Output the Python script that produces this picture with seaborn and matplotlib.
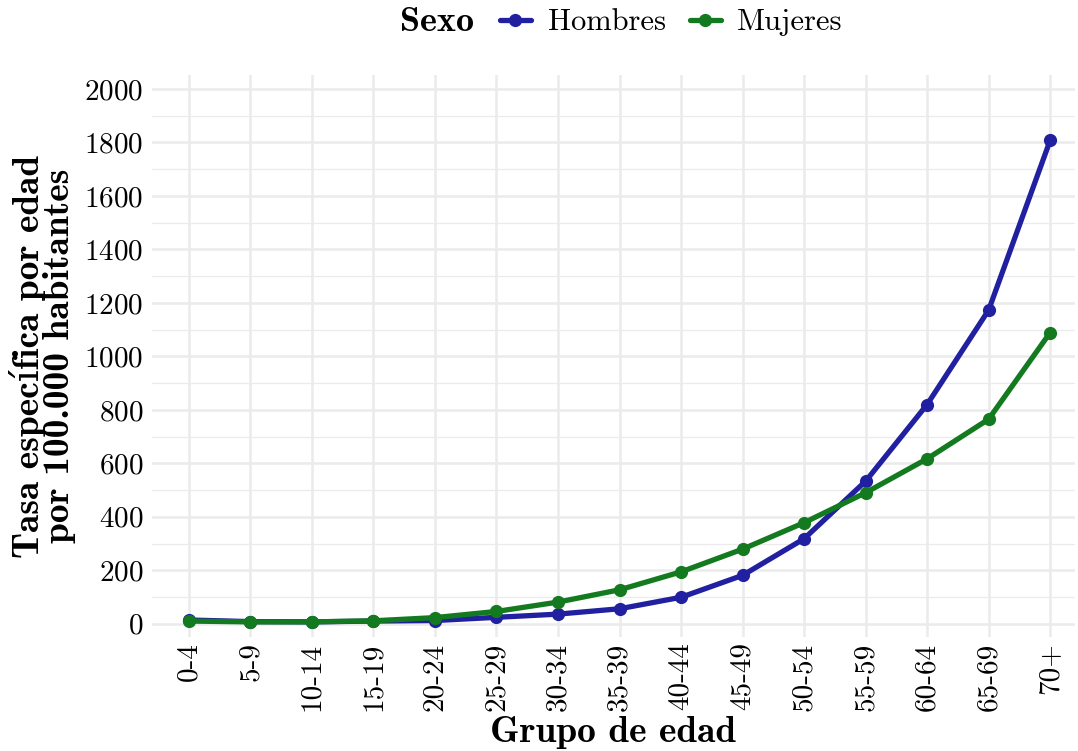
import numpy as np
import pandas as pd
import seaborn as sns
import matplotlib.pyplot as plt
from matplotlib.ticker import MultipleLocator

grupos = ["0-4", "5-9", "10-14", "15-19", "20-24", "25-29", "30-34", "35-39",
          "40-44", "45-49", "50-54", "55-59", "60-64", "65-69", "70+"]
hombres = [14, 8, 7, 10, 12, 24, 36, 56, 99, 181, 318, 533, 820, 1173, 1808]
mujeres = [10, 7, 7, 11, 23, 46, 81, 127, 194, 279, 378, 490, 617, 765, 1089]
colores = {"Hombres": "#2020A0", "Mujeres": "#137A1F"}

df = pd.DataFrame({
    "grupo": grupos * 2,
    "tasa": hombres + mujeres,
    "sexo": ["Hombres"] * len(grupos) + ["Mujeres"] * len(grupos),
})

sns.set_style("white")
plt.rcParams["font.family"] = ["cmr10", "DejaVu Serif"]
plt.rcParams["axes.unicode_minus"] = False
plt.rcParams["axes.formatter.use_mathtext"] = True
plt.rcParams["text.color"] = "black"
plt.rcParams["axes.labelcolor"] = "black"
plt.rcParams["xtick.color"] = "black"
plt.rcParams["ytick.color"] = "black"
bold = ["cmb10", "DejaVu Serif"]

fig = plt.figure(figsize=(10.78, 7.51), dpi=100)
ax = fig.add_axes([0.141, 0.152, 0.856, 0.748])

sns.lineplot(data=df, x="grupo", y="tasa", hue="sexo", palette=colores,
             marker="o", markersize=9.5, markeredgewidth=0, linewidth=3.8,
             sort=False, ax=ax, legend=False, zorder=3)

ax.set_xlim(-0.6, 14.4)
ax.set_ylim(-49, 2052)
ax.set_xticks(range(len(grupos)))
ax.set_xticklabels(grupos, rotation=90)
ax.yaxis.set_major_locator(MultipleLocator(200))
ax.yaxis.set_minor_locator(MultipleLocator(100))
ax.grid(which="major", color="#EBEBEB", linewidth=1.8)
ax.grid(which="minor", axis="y", color="#EBEBEB", linewidth=0.9)
ax.set_axisbelow(True)
for s in ax.spines.values():
    s.set_visible(False)
ax.tick_params(which="both", length=0, labelsize=21, pad=6)
ax.tick_params(axis="x", pad=4)

ax.set_xlabel("Grupo de edad", fontsize=27, family=bold, labelpad=4)
ax.set_ylabel("Tasa específica por edad\npor 100.000 habitantes", fontsize=27,
              family=bold, labelpad=6, linespacing=0.9)

# leyenda arriba, con el título en línea
handles = [plt.Line2D([], [], color=colores[k], marker="o", markersize=9.5,
                      markeredgewidth=0, linewidth=3.8) for k in colores]
fig.text(0.371, 0.970, "Sexo", fontsize=26, family=bold, va="center")
fig.legend(handles, list(colores), loc="center left", bbox_to_anchor=(0.464, 0.970),
           ncol=2, frameon=False, fontsize=22, handlelength=1.0,
           handletextpad=0.55, columnspacing=0.8, borderaxespad=0, borderpad=0)

fig.savefig("out.png", dpi=100)
